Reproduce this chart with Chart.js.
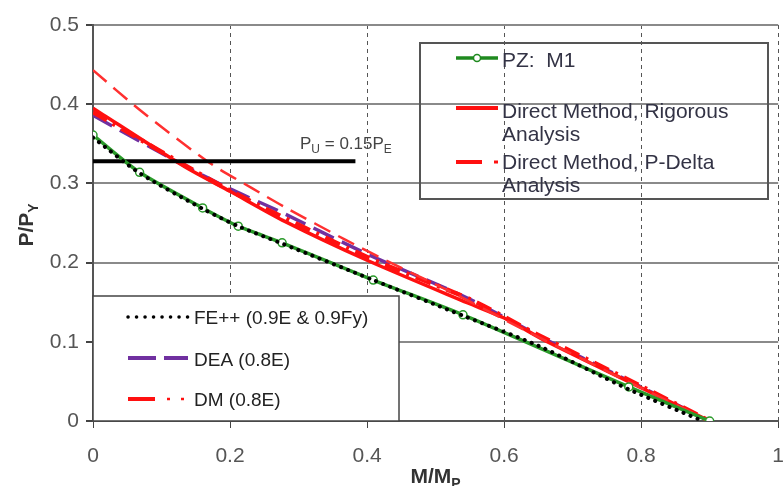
<!DOCTYPE html>
<html>
<head>
<meta charset="utf-8">
<script src="https://cdn.jsdelivr.net/npm/chart.js@4.4.1/dist/chart.umd.min.js"></script>
<style>
  html, body { margin: 0; padding: 0; overflow: hidden; background: #fff; }
  #wrap { width: 800px; height: 500px; }
</style>
</head>
<body>
<div id="wrap"><canvas id="chart" width="800" height="500"></canvas></div>
<script>
// axis ticks
const xTicks = [0, 0.2, 0.4, 0.6, 0.8, 1];
const yTicks = [0, 0.1, 0.2, 0.3, 0.4, 0.5];

// PZ: M1 (green, open circles)
const pzX = [0, 0.068, 0.16, 0.212, 0.276, 0.409, 0.54, 0.782, 0.9];
const pzY = [0.361, 0.314, 0.269, 0.246, 0.225, 0.178, 0.134, 0.043, 0];

// FE++ (0.9E & 0.9Fy), black dotted
const feX = [0, 0.068, 0.16, 0.212, 0.276, 0.409, 0.54, 0.65, 0.782, 0.89];
const feY = [0.358, 0.313, 0.268, 0.246, 0.224, 0.178, 0.133, 0.095, 0.04, 0];

// Direct Method, Rigorous Analysis (red solid)
const rigX = [0, 0.134, 0.2, 0.28, 0.4, 0.547, 0.6, 0.663, 0.8, 0.9];
const rigY = [0.395, 0.321, 0.29, 0.252, 0.203, 0.149, 0.13, 0.1, 0.042, 0];

// DEA (0.8E), purple dashed
const deaX = [0, 0.134, 0.2, 0.269, 0.402, 0.547, 0.663, 0.8, 0.9];
const deaY = [0.386, 0.322, 0.293, 0.266, 0.21, 0.155, 0.102, 0.043, 0];

// DM (0.8E), red dash-dot
const dmX = [0, 0.2, 0.4, 0.552, 0.649, 0.8, 0.9];
const dmY = [0.39, 0.291, 0.207, 0.153, 0.109, 0.044, 0];

// Direct Method, P-Delta Analysis (red dashed)
const pdX = [0, 0.068, 0.17, 0.232, 0.28, 0.368, 0.441, 0.518, 0.634, 0.78, 0.9];
const pdY = [0.443, 0.393, 0.326, 0.294, 0.27, 0.229, 0.197, 0.165, 0.113, 0.05, 0];

// P_U = 0.15 P_E limit
const limX = [0, 0.383];
const limY = [0.328, 0.328];

const pts = (xs, ys) => xs.map((x, i) => ({ x: x, y: ys[i] }));

const FONT = '"Liberation Sans", Arial, sans-serif';
const TXT = "#333345";

function partsWidth(ctx, parts, size, bold) {
  let w = 0;
  parts.forEach(p => {
    const fs = p[1] ? Math.round(size * 0.68) : size;
    ctx.font = (bold ? "bold " : "") + fs + "px " + FONT;
    w += ctx.measureText(p[0]).width;
  });
  return w;
}

function drawParts(ctx, parts, x, y, size, bold) {
  let cx = x;
  parts.forEach(p => {
    const fs = p[1] ? Math.round(size * 0.68) : size;
    ctx.font = (bold ? "bold " : "") + fs + "px " + FONT;
    ctx.fillText(p[0], cx, p[1] ? y + size * 0.25 : y);
    cx += ctx.measureText(p[0]).width;
  });
}

function sample(ctx, x1, x2, y, color, width, dash, cap) {
  ctx.save();
  ctx.strokeStyle = color;
  ctx.lineWidth = width;
  ctx.lineCap = cap || "butt";
  ctx.setLineDash(dash || []);
  ctx.beginPath();
  ctx.moveTo(x1, y);
  ctx.lineTo(x2, y);
  ctx.stroke();
  ctx.restore();
}

const decor = {
  id: "decor",
  afterDraw(c) {
    const ctx = c.ctx;
    ctx.save();
    ctx.textBaseline = "alphabetic";
    ctx.textAlign = "left";

    // axis titles
    ctx.fillStyle = "#333";
    const xt = [["M/M", false], ["P", true]];
    const xw = partsWidth(ctx, xt, 21, true);
    drawParts(ctx, xt, (c.chartArea.left + c.chartArea.right) / 2 - xw / 2, 483, 21, true);

    ctx.save();
    ctx.translate(33, 225);
    ctx.rotate(-Math.PI / 2);
    const yt = [["P/P", false], ["Y", true]];
    const yw = partsWidth(ctx, yt, 21, true);
    drawParts(ctx, yt, -yw / 2, 0, 21, true);
    ctx.restore();

    // limit annotation
    ctx.fillStyle = "#444";
    drawParts(ctx, [["P", false], ["U", true], [" = 0.15P", false], ["E", true]], 300, 149, 17, false);

    // legend 1 (top right, no fill)
    ctx.strokeStyle = "#555";
    ctx.lineWidth = 2;
    ctx.strokeRect(420, 43, 348, 156);
    sample(ctx, 456, 498, 58, "#1f8a1f", 3.5);
    ctx.beginPath();
    ctx.arc(477, 58, 3.5, 0, Math.PI * 2);
    ctx.fillStyle = "#fff";
    ctx.fill();
    ctx.strokeStyle = "#1f8a1f";
    ctx.lineWidth = 1.5;
    ctx.stroke();
    ctx.fillStyle = TXT;
    ctx.font = "21px " + FONT;
    ctx.fillText("PZ:  M1", 502, 67);
    sample(ctx, 456, 498, 108, "#ff1010", 4);
    ctx.fillText("Direct Method, Rigorous", 502, 118);
    ctx.fillText("Analysis", 502, 141);
    sample(ctx, 456, 482, 162, "#ff1010", 4);
    sample(ctx, 494, 498, 162, "#ff1010", 3);
    ctx.fillText("Direct Method, P-Delta", 502, 169);
    ctx.fillText("Analysis", 502, 192);

    // legend 2 (bottom left, white fill)
    ctx.fillStyle = "#fff";
    ctx.fillRect(93, 296, 306, 125);
    ctx.strokeStyle = "#444";
    ctx.lineWidth = 1.5;
    ctx.strokeRect(93, 296, 306, 125);
    ctx.fillStyle = "#222";
    ctx.font = "19px " + FONT;
    sample(ctx, 128, 188, 317, "#000", 3.5, [0.1, 8.4], "round");
    ctx.fillText("FE++ (0.9E & 0.9Fy)", 194, 324);
    sample(ctx, 128, 188, 358, "#7030a0", 4, [28, 8]);
    ctx.fillText("DEA (0.8E)", 194, 366);
    sample(ctx, 128, 155, 399, "#ff1010", 4);
    sample(ctx, 167, 170, 399, "#ff1010", 2.5);
    sample(ctx, 181, 184, 399, "#ff1010", 2.5);
    ctx.fillText("DM (0.8E)", 194, 406);

    ctx.restore();
  }
};

new Chart(document.getElementById("chart"), {
  type: "scatter",
  data: {
    datasets: [
      {
        label: "FE++ (0.9E & 0.9Fy)",
        data: pts(feX, feY),
        showLine: true,
        borderColor: "#000",
        borderWidth: 4,
        borderDash: [0.1, 7.5],
        borderCapStyle: "round",
        pointRadius: 0,
        tension: 0.25
      },
      {
        label: "PZ: M1",
        data: pts(pzX, pzY),
        showLine: true,
        borderColor: "#2a9a2a",
        borderWidth: 3.5,
        pointRadius: 4,
        pointBackgroundColor: "#fff",
        pointBorderColor: "#2a9a2a",
        pointBorderWidth: 1.5,
        tension: 0.25
      },
      {
        label: "limit",
        data: pts(limX, limY),
        showLine: true,
        borderColor: "#000",
        borderWidth: 4,
        pointRadius: 0
      },
      {
        label: "Direct Method, P-Delta Analysis",
        data: pts(pdX, pdY),
        showLine: true,
        borderColor: "#ff3030",
        borderWidth: 2.5,
        borderDash: [18, 9],
        pointRadius: 0,
        tension: 0.25
      },
      {
        label: "DM (0.8E)",
        data: pts(dmX, dmY),
        showLine: true,
        borderColor: "#ff1010",
        borderWidth: 4.5,
        borderDash: [16, 7, 3, 7],
        pointRadius: 0,
        tension: 0.25
      },
      {
        label: "Direct Method, Rigorous Analysis",
        data: pts(rigX, rigY),
        showLine: true,
        borderColor: "#ff1010",
        borderWidth: 3.5,
        pointRadius: 0,
        tension: 0.25
      },
      {
        label: "DEA (0.8E)",
        data: pts(deaX, deaY),
        showLine: true,
        borderColor: "#7030a0",
        borderWidth: 3.5,
        borderDash: [22, 9],
        pointRadius: 0,
        tension: 0.25
      }
    ]
  },
  options: {
    responsive: false,
    animation: false,
    layout: { padding: { left: 0, right: 18, top: 25, bottom: 0 } },
    plugins: { legend: { display: false }, tooltip: { enabled: false } },
    scales: {
      x: {
        type: "linear",
        min: 0,
        max: 1,
        afterBuildTicks: s => { s.ticks = xTicks.map(v => ({ value: v })); },
        afterFit: s => { s.height = 79; },
        ticks: {
          color: "#555",
          font: { size: 21, family: FONT },
          padding: 16,
          callback: v => String(+v.toFixed(1))
        },
        grid: { color: "#555", lineWidth: 1, tickLength: 7, tickColor: "#444" },
        border: { color: "#555", width: 2, dash: [4, 4] }
      },
      y: {
        type: "linear",
        min: 0,
        max: 0.5,
        afterBuildTicks: s => { s.ticks = yTicks.map(v => ({ value: v })); },
        afterFit: s => { s.width = 93; },
        ticks: {
          color: "#555",
          font: { size: 21, family: FONT },
          padding: 7,
          callback: v => String(+v.toFixed(1))
        },
        grid: { color: "#8a8a8a", lineWidth: 2, tickLength: 7, tickColor: "#444" },
        border: { color: "#555", width: 2 }
      }
    }
  },
  plugins: [decor]
});
</script>
</body>
</html>
